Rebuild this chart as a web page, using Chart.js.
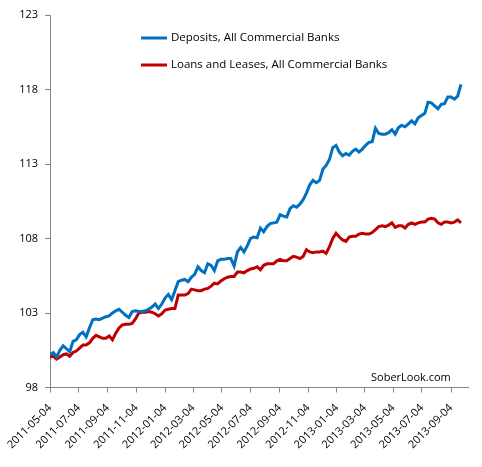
<!DOCTYPE html>
<html>
<head>
<meta charset="utf-8">
<script src="https://cdn.jsdelivr.net/npm/chart.js@4.4.1/dist/chart.umd.min.js"></script>
<style>
html, body { margin: 0; padding: 0; background: #fff; }
#wrap { width: 482px; height: 467px; }
</style>
</head>
<body>
<div id="wrap"><canvas id="chart"></canvas></div>
<script>
// weekly index values, first week = 2011-05-04
const startDate = '2011-05-04';
const seriesNames = ['Deposits, All Commercial Banks', 'Loans and Leases, All Commercial Banks'];

const deposits = [
    100.2, 100.35, 100.05, 100.5, 100.8, 100.6, 100.4, 101.1, 101.2, 101.55,
    101.7, 101.4, 102.0, 102.55, 102.6, 102.55, 102.65, 102.75, 102.8, 103.0,
    103.15, 103.25, 103.05, 102.85, 102.7, 103.1, 103.15, 103.1, 103.1, 103.15,
    103.25, 103.4, 103.6, 103.3, 103.6, 104.0, 104.25, 103.9, 104.5, 105.1,
    105.2, 105.25, 105.1, 105.4, 105.6, 106.1, 105.85, 105.7, 106.3, 106.2,
    105.85, 106.5, 106.6, 106.6, 106.65, 106.65, 106.15, 107.1, 107.4, 107.1,
    107.5, 108.0, 108.1, 108.05, 108.7, 108.45, 108.8, 109.0, 109.05, 109.1,
    109.6, 109.5, 109.45, 110.0, 110.2, 110.1, 110.3, 110.6, 111.05, 111.6,
    111.9, 111.75, 111.9, 112.65, 112.9, 113.3, 114.1, 114.25, 113.8, 113.55,
    113.7, 113.6, 113.85, 114.0, 113.8, 114.0, 114.25, 114.45, 114.5, 115.4,
    115.05, 115.0, 115.0, 115.1, 115.3, 115.0, 115.45, 115.6, 115.5, 115.7,
    115.9, 115.7, 116.1, 116.25, 116.4, 117.15, 117.1, 116.9, 116.7, 117.0,
    117.05, 117.5, 117.5, 117.35, 117.55, 118.35
];

const loans = [
    100.05, 100.1, 99.9, 100.05, 100.2, 100.25, 100.1, 100.35, 100.45, 100.65,
    100.85, 100.85, 101.0, 101.3, 101.5, 101.4, 101.3, 101.3, 101.45, 101.2,
    101.65, 102.0, 102.2, 102.25, 102.25, 102.3, 102.6, 103.0, 103.05, 103.05,
    103.1, 103.05, 102.95, 102.8, 102.95, 103.2, 103.25, 103.3, 103.3, 104.2,
    104.2, 104.2, 104.3, 104.6, 104.55, 104.5, 104.5, 104.6, 104.65, 104.8,
    105.0, 104.95, 105.15, 105.3, 105.4, 105.45, 105.45, 105.75, 105.75, 105.7,
    105.85, 105.95, 106.0, 106.1, 105.9, 106.2, 106.3, 106.3, 106.3, 106.5,
    106.6, 106.5, 106.5, 106.65, 106.8, 106.75, 106.65, 106.8, 107.25, 107.1,
    107.05, 107.1, 107.1, 107.15, 107.0, 107.45, 108.0, 108.35, 108.1, 107.9,
    107.8, 108.1, 108.15, 108.15, 108.3, 108.35, 108.3, 108.3, 108.4, 108.6,
    108.8, 108.85, 108.8, 108.9, 109.05, 108.75, 108.85, 108.85, 108.7, 108.95,
    109.05, 108.95, 109.05, 109.1, 109.1, 109.3, 109.35, 109.3, 109.05, 108.95,
    109.1, 109.1, 109.05, 109.1, 109.25, 109.05
];

const tickDates = [
    '2011-05-04', '2011-07-04', '2011-09-04', '2011-11-04', '2012-01-04',
    '2012-03-04', '2012-05-04', '2012-07-04', '2012-09-04', '2012-11-04',
    '2013-01-04', '2013-03-04', '2013-05-04', '2013-07-04', '2013-09-04'
];
const yTicks = [98, 103, 108, 113, 118, 123];

// days since start date
const DAY = 86400000;
const t0 = Date.parse(startDate);
function dayOffset(s) { return Math.round((Date.parse(s) - t0) / DAY); }
const tickDays = tickDates.map(dayOffset);

function toPoints(values) {
    return values.map((v, i) => ({ x: i * 7, y: v }));
}

const axisGrey = '#868686';
const fontFamily = '"Open Sans", sans-serif';

// legend drawn inside the plot, Excel style
const insideLegend = {
    id: 'insideLegend',
    afterDraw(chart) {
        const ctx = chart.ctx;
        ctx.save();
        ctx.font = '11.5px ' + fontFamily;
        ctx.textBaseline = 'middle';
        ctx.textAlign = 'left';
        chart.data.datasets.forEach((ds, i) => {
            const y = 38 + i * 27;
            ctx.strokeStyle = ds.borderColor;
            ctx.lineWidth = 3;
            ctx.beginPath();
            ctx.moveTo(141, y);
            ctx.lineTo(167, y);
            ctx.stroke();
            ctx.fillStyle = '#000';
            ctx.fillText(ds.label, 171, y);
        });
        ctx.font = '11px ' + fontFamily;
        ctx.fillText('SoberLook.com', 371, 378);
        ctx.restore();
    }
};

const ctx = document.getElementById('chart').getContext('2d');
const chart = new Chart(ctx, {
    type: 'line',
    data: {
        datasets: [{
            label: seriesNames[0],
            data: toPoints(deposits),
            borderColor: '#0070C0',
            borderWidth: 3,
            pointRadius: 0,
            tension: 0
        }, {
            label: seriesNames[1],
            data: toPoints(loans),
            borderColor: '#C00000',
            borderWidth: 3,
            pointRadius: 0,
            tension: 0
        }]
    },
    options: {
        responsive: true,
        maintainAspectRatio: false,
        animation: false,
        layout: { padding: { top: 15, right: 14, left: 0, bottom: 0 } },
        plugins: {
            legend: { display: false },
            tooltip: { enabled: false }
        },
        scales: {
            x: {
                type: 'linear',
                min: 0,
                max: 890,
                afterBuildTicks: (scale) => {
                    scale.ticks = tickDays.map(v => ({ value: v }));
                },
                afterFit: (scale) => { scale.height = 79.5; },
                ticks: {
                    autoSkip: false,
                    minRotation: 45,
                    maxRotation: 45,
                    padding: 9,
                    color: '#000',
                    font: { family: fontFamily, size: 11 },
                    callback: (v) => tickDates[tickDays.indexOf(v)]
                },
                grid: { display: true, drawOnChartArea: false, color: axisGrey, tickLength: 5 },
                border: { color: axisGrey, width: 1 }
            },
            y: {
                min: 98,
                max: 123,
                afterBuildTicks: (scale) => {
                    scale.ticks = yTicks.map(v => ({ value: v }));
                },
                afterFit: (scale) => { scale.width = 50; },
                ticks: {
                    padding: 7,
                    color: '#000',
                    font: { family: fontFamily, size: 11 }
                },
                grid: { display: true, drawOnChartArea: false, color: axisGrey, tickLength: 5 },
                border: { color: axisGrey, width: 1 }
            }
        }
    },
    plugins: [insideLegend]
});
</script>
</body>
</html>
